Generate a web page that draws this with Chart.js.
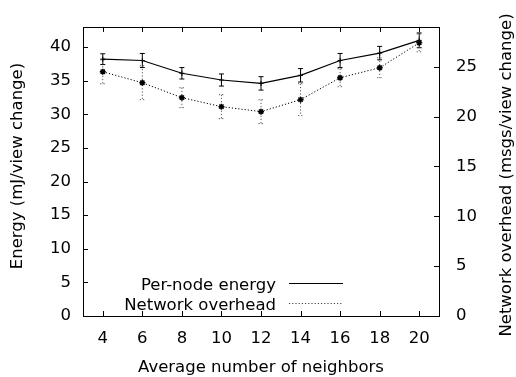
<!DOCTYPE html>
<html><head><meta charset="utf-8">
<script src="https://cdn.jsdelivr.net/npm/chart.js@4/dist/chart.umd.min.js"></script>
<style>html,body{margin:0;padding:0;background:#fff}#wrap{width:516px;height:377px}</style>
</head><body><div id="wrap"><canvas id="c" width="516" height="377"></canvas></div>
<script>
const neighbors = [4, 6, 8, 10, 12, 14, 16, 18, 20];
const energy = [38.2, 38.0, 36.1, 35.1, 34.6, 35.8, 38.0, 39.1, 41.0];
const energyErr = [0.8, 1.05, 0.85, 0.9, 1.0, 1.0, 1.05, 1.0, 1.1];
const overhead = [24.5, 23.4, 21.9, 21.0, 20.5, 21.7, 23.9, 24.9, 27.4];
const overheadErr = [1.2, 1.7, 1.0, 1.2, 1.2, 1.6, 0.9, 1.0, 0.9];
const xTicks = [4, 6, 8, 10, 12, 14, 16, 18, 20];
const energyTicks = [0, 5, 10, 15, 20, 25, 30, 35, 40];
const overheadTicks = [0, 5, 10, 15, 20, 25];
const seriesLabels = ['Per-node energy', 'Network overhead'];
const xTitle = 'Average number of neighbors';
const yTitle = 'Energy (mJ/view change)';
const y2Title = 'Network overhead (msgs/view change)';

const FONT = 'DejaVu Sans';
const FS = 16.5;
const DOT = [1.2, 2];

const framePlugin = {
  id: 'frame',
  beforeDatasetsDraw(chart) {
    const ctx = chart.ctx, xs = chart.scales.x;
    const errs = [energyErr, overheadErr];
    const vals = [energy, overhead];
    chart.data.datasets.forEach((ds, i) => {
      const ys = chart.scales[ds.yAxisID];
      ctx.save();
      ctx.strokeStyle = i === 0 ? '#000' : '#555';
      ctx.lineWidth = 1;
      ctx.setLineDash(i === 0 ? [] : DOT);
      neighbors.forEach((n, j) => {
        const x = xs.getPixelForValue(n);
        const t = ys.getPixelForValue(vals[i][j] + errs[i][j]);
        const b = ys.getPixelForValue(vals[i][j] - errs[i][j]);
        ctx.beginPath();
        ctx.moveTo(x, t); ctx.lineTo(x, b);
        ctx.moveTo(x - 2.5, t); ctx.lineTo(x + 2.5, t);
        ctx.moveTo(x - 2.5, b); ctx.lineTo(x + 2.5, b);
        ctx.stroke();
      });
      ctx.restore();
    });
  },
  afterDraw(chart) {
    const ctx = chart.ctx, a = chart.chartArea;
    const xs = chart.scales.x, ys = chart.scales.y, y2 = chart.scales.y2;
    ctx.save();
    ctx.strokeStyle = '#000';
    ctx.lineWidth = 1;
    ctx.strokeRect(Math.round(a.left) + 0.5, Math.round(a.top) + 0.5, Math.round(a.right - a.left), Math.round(a.bottom - a.top));
    const TL = 5;
    ctx.beginPath();
    xTicks.forEach(v => {
      const x = Math.round(xs.getPixelForValue(v)) + 0.5;
      ctx.moveTo(x, a.bottom); ctx.lineTo(x, a.bottom - TL);
      ctx.moveTo(x, a.top); ctx.lineTo(x, a.top + TL);
    });
    energyTicks.forEach(v => {
      const y = Math.round(ys.getPixelForValue(v)) + 0.5;
      ctx.moveTo(a.left, y); ctx.lineTo(a.left + TL, y);
    });
    overheadTicks.forEach(v => {
      const y = Math.round(y2.getPixelForValue(v)) + 0.5;
      ctx.moveTo(a.right, y); ctx.lineTo(a.right - TL, y);
    });
    ctx.stroke();

    // legend
    ctx.font = FS + 'px "' + FONT + '"';
    ctx.fillStyle = '#000';
    ctx.textAlign = 'right';
    ctx.textBaseline = 'alphabetic';
    chart.data.datasets.forEach((ds, i) => {
      const yb = a.bottom - 26.5 + i * 20;
      ctx.fillText(ds.label, a.left + 193, yb);
      const yl = Math.round(yb - 7) + 0.5;
      ctx.save();
      ctx.strokeStyle = i === 0 ? '#000' : '#444';
      ctx.lineWidth = i === 0 ? 1.2 : 1;
      ctx.setLineDash(ds.borderDash || []);
      ctx.beginPath();
      ctx.moveTo(a.left + 206, yl); ctx.lineTo(a.left + 260, yl);
      ctx.stroke();
      ctx.restore();
    });

    // axis titles
    ctx.textAlign = 'center';
    ctx.textBaseline = 'alphabetic';
    ctx.fillText(xTitle, (a.left + a.right) / 2, 371.5);
    ctx.textBaseline = 'middle';
    ctx.save();
    ctx.translate(17.5, 166);
    ctx.rotate(-Math.PI / 2);
    ctx.fillText(yTitle, 0, 0);
    ctx.restore();
    ctx.save();
    ctx.translate(506.5, 175);
    ctx.rotate(-Math.PI / 2);
    ctx.fillText(y2Title, 0, 0);
    ctx.restore();
    ctx.restore();
  }
};

const tickFont = { family: FONT, size: FS };

new Chart(document.getElementById('c'), {
  type: 'line',
  data: {
    datasets: [
      {
        label: seriesLabels[0],
        data: neighbors.map((x, i) => ({ x: x, y: energy[i] })),
        yAxisID: 'y',
        borderColor: '#000',
        backgroundColor: '#000',
        borderWidth: 1.2,
        pointStyle: 'cross',
        pointRadius: 2.5,
        pointBorderWidth: 1,
        tension: 0,
        fill: false
      },
      {
        label: seriesLabels[1],
        data: neighbors.map((x, i) => ({ x: x, y: overhead[i] })),
        yAxisID: 'y2',
        borderColor: '#000',
        backgroundColor: '#000',
        borderWidth: 1,
        borderDash: DOT,
        pointStyle: 'star',
        pointRadius: 3,
        pointBorderWidth: 1.5,
        tension: 0,
        fill: false
      }
    ]
  },
  options: {
    responsive: false,
    animation: false,
    devicePixelRatio: 1,
    layout: { padding: { top: 26, left: 0, right: 0, bottom: 0 } },
    plugins: { legend: { display: false }, tooltip: { enabled: false } },
    scales: {
      x: {
        type: 'linear', position: 'bottom', min: 3, max: 21,
        afterBuildTicks: s => { s.ticks = xTicks.map(v => ({ value: v })); },
        afterFit: s => { s.height = 61; },
        grid: { display: false, drawTicks: false },
        border: { display: false },
        ticks: { font: tickFont, color: '#000', padding: 13, maxRotation: 0, autoSkip: false }
      },
      y: {
        type: 'linear', position: 'left', min: 0, max: 43,
        afterBuildTicks: s => { s.ticks = energyTicks.map(v => ({ value: v })); },
        afterFit: s => { s.width = 83; },
        grid: { display: false, drawTicks: false },
        border: { display: false },
        ticks: { font: tickFont, color: '#000', padding: 12 }
      },
      y2: {
        type: 'linear', position: 'right', min: 0, max: 29,
        afterBuildTicks: s => { s.ticks = overheadTicks.map(v => ({ value: v })); },
        afterFit: s => { s.width = 77; },
        grid: { display: false, drawTicks: false },
        border: { display: false },
        ticks: { font: tickFont, color: '#000', padding: 17 }
      }
    }
  },
  plugins: [framePlugin]
});
</script></body></html>
